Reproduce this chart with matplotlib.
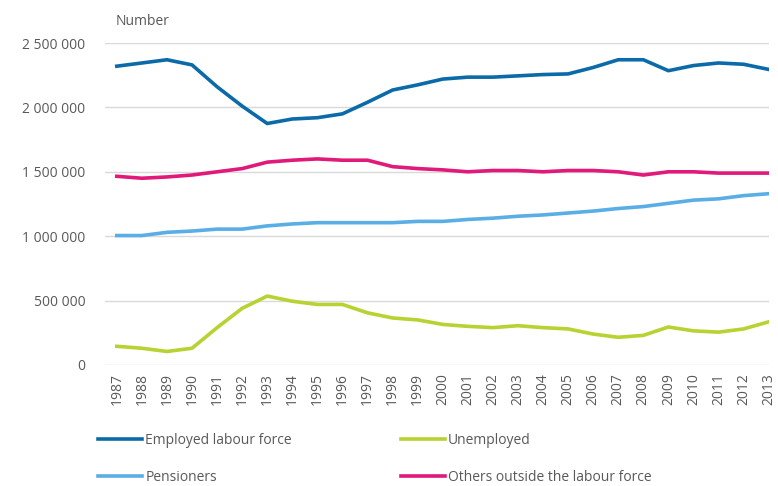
import matplotlib.pyplot as plt
import numpy as np
from matplotlib.ticker import FuncFormatter

# population by labour market status
years = list(range(1987, 2014))
employed = [2320000, 2345000, 2370000, 2330000, 2160000, 2010000, 1875000, 1910000, 1920000,
            1950000, 2040000, 2135000, 2175000, 2220000, 2235000, 2235000, 2245000, 2255000,
            2260000, 2310000, 2370000, 2370000, 2285000, 2325000, 2345000, 2335000, 2295000]
unemployed = [145000, 130000, 105000, 130000, 290000, 440000, 535000, 495000, 470000,
              470000, 405000, 365000, 350000, 315000, 300000, 290000, 305000, 290000,
              280000, 240000, 215000, 230000, 295000, 265000, 255000, 280000, 335000]
pensioners = [1005000, 1005000, 1030000, 1040000, 1055000, 1055000, 1080000, 1095000, 1105000,
              1105000, 1105000, 1105000, 1115000, 1115000, 1130000, 1140000, 1155000, 1165000,
              1180000, 1195000, 1215000, 1230000, 1255000, 1280000, 1290000, 1315000, 1330000]
others = [1465000, 1450000, 1460000, 1475000, 1500000, 1525000, 1575000, 1590000, 1600000,
          1590000, 1590000, 1540000, 1525000, 1515000, 1500000, 1510000, 1510000, 1500000,
          1510000, 1510000, 1500000, 1475000, 1500000, 1500000, 1490000, 1490000, 1490000]

plt.rcParams['font.family'] = ['Open Sans', 'DejaVu Sans']

fig = plt.figure(figsize=(7.78, 4.86), dpi=100)
ax = fig.add_axes([0.135, 0.249, 0.853, 0.6625])

grey = '#595959'
lw = 2.6
l1, = ax.plot(years, employed, color='#0b6aa8', lw=lw, label='Employed labour force')
l3, = ax.plot(years, pensioners, color='#5aaee6', lw=lw, label='Pensioners')
l2, = ax.plot(years, unemployed, color='#b6d331', lw=lw, label='Unemployed')
l4, = ax.plot(years, others, color='#e0197a', lw=lw, label='Others outside the labour force')

ax.set_ylim(0, 2500000)
ax.set_xlim(1986.53, 2013.0)
ax.set_yticks(np.arange(0, 2500001, 500000))
ax.yaxis.set_major_formatter(FuncFormatter(lambda v, p: f'{int(v):,}'.replace(',', ' ')))
ax.set_xticks(years)
ax.set_xticklabels([str(y) for y in years], rotation=90)
ax.tick_params(length=0, colors=grey, labelsize=10)
ax.tick_params(axis='y', pad=14)
ax.tick_params(axis='x', pad=6)
ax.grid(axis='y', color='#d9d9d9', lw=1)
ax.set_axisbelow(True)
for s in ax.spines.values():
    s.set_visible(False)

fig.text(0.148, 0.955, 'Number', color=grey, fontsize=10, va='center')

# legend in two columns: employed/unemployed on top, pensioners/others below
fig.legend(handles=[l1, l3, l2, l4], loc='center left', bbox_to_anchor=(0.126, 0.056),
           ncol=2, frameon=False, fontsize=10, labelcolor=grey, handlelength=3.2,
           handletextpad=0.2, columnspacing=7.85, labelspacing=1.55, borderaxespad=0,
           borderpad=0)

fig.savefig('out.png', dpi=100)
